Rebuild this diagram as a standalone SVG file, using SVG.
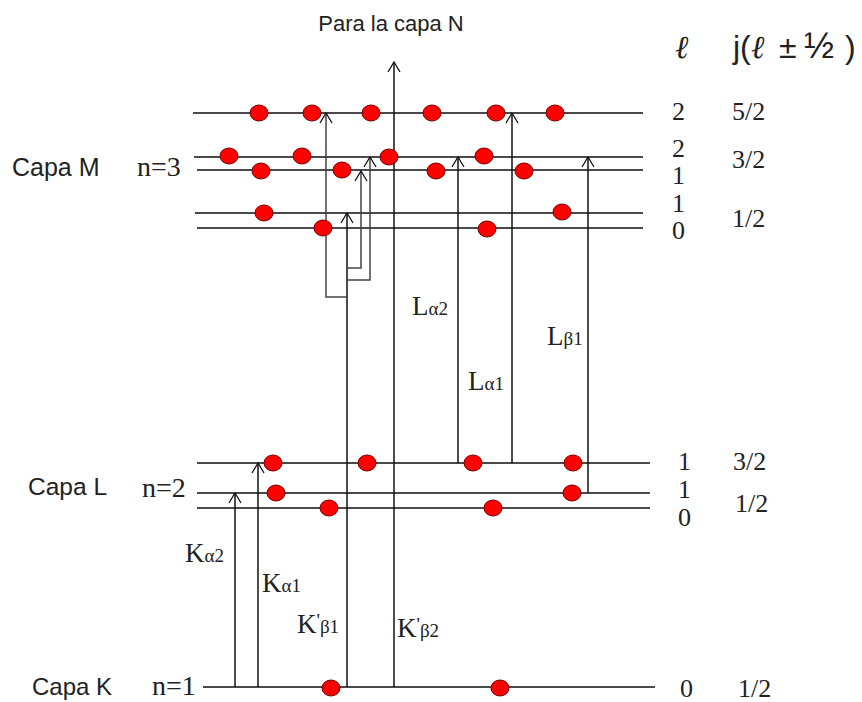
<svg xmlns="http://www.w3.org/2000/svg" width="862" height="702" viewBox="0 0 862 702">
<style>
.lvl{stroke:#4a4a4a;stroke-width:2;fill:none}
.e{fill:#ff0000;stroke:#7a0000;stroke-width:1}
.arr{stroke:#111;stroke-width:1.5;fill:none;marker-end:url(#ah)}
.br{stroke:#444;stroke-width:1.5;fill:none;marker-end:url(#ah)}
.sans{font-family:"Liberation Sans",Arial,sans-serif;fill:#222}
.ser{font-family:"Liberation Serif","Times New Roman",serif;fill:#222}
.num{font-family:"Liberation Serif","Times New Roman",serif;font-size:26px;fill:#222}
</style>
<defs>
<marker id="ah" viewBox="-12 -8 14 16" refX="0" refY="0" markerWidth="14" markerHeight="16" markerUnits="userSpaceOnUse" orient="auto" overflow="visible">
<path d="M-10,-6 L0,0 L-10,6" fill="none" stroke="#111" stroke-width="1.3"/>
</marker>
</defs>
<rect width="862" height="702" fill="#fff"/>

<g id="shell-M">
<line class="lvl" x1="193" y1="113" x2="643" y2="113"/>
<line class="lvl" x1="194" y1="157" x2="643" y2="157"/>
<line class="lvl" x1="197" y1="170" x2="643" y2="170"/>
<line class="lvl" x1="195" y1="213" x2="643" y2="213"/>
<line class="lvl" x1="197" y1="228" x2="643" y2="228"/>
<text class="sans" x="12" y="176" font-size="25">Capa M</text>
<text class="ser" x="137" y="176" font-size="28">n=3</text>
</g>

<g id="shell-L">
<line class="lvl" x1="197" y1="463" x2="650" y2="463"/>
<line class="lvl" x1="197" y1="493" x2="650" y2="493"/>
<line class="lvl" x1="197" y1="508" x2="650" y2="508"/>
<text class="sans" x="28" y="495" font-size="24.5">Capa L</text>
<text class="ser" x="142" y="497" font-size="28">n=2</text>
</g>

<g id="shell-K">
<line class="lvl" x1="203" y1="687" x2="655" y2="687"/>
<text class="sans" x="32" y="695" font-size="24">Capa K</text>
<text class="ser" x="152" y="695" font-size="28">n=1</text>
</g>

<g id="connectors">
<path class="arr" d="M235,687 V493"/>
<path class="arr" d="M258,687 V463"/>
<path class="arr" d="M347,687 V213"/>
<path class="br" d="M347,268 H361 V171"/>
<path class="br" d="M347,280 H370 V157"/>
<path class="br" d="M347,297 H326 V113"/>
<path class="arr" d="M394,687 V62" stroke-width="2.2"/>
<path class="arr" d="M458,463 V157"/>
<path class="arr" d="M512,463 V113"/>
<path class="arr" d="M588,493 V157"/>
</g>

<g id="electrons">
<ellipse class="e" cx="259" cy="113" rx="9" ry="8"/>
<ellipse class="e" cx="312" cy="113" rx="9" ry="8"/>
<ellipse class="e" cx="371" cy="113" rx="9" ry="8"/>
<ellipse class="e" cx="432" cy="113" rx="9" ry="8"/>
<ellipse class="e" cx="496" cy="113" rx="9" ry="8"/>
<ellipse class="e" cx="555" cy="113" rx="9" ry="8"/>
<ellipse class="e" cx="229" cy="156" rx="9" ry="8"/>
<ellipse class="e" cx="302" cy="156" rx="9" ry="8"/>
<ellipse class="e" cx="389" cy="157" rx="9" ry="8"/>
<ellipse class="e" cx="484" cy="156" rx="9" ry="8"/>
<ellipse class="e" cx="261" cy="171" rx="9" ry="8"/>
<ellipse class="e" cx="342" cy="170" rx="9" ry="8"/>
<ellipse class="e" cx="436" cy="171" rx="9" ry="8"/>
<ellipse class="e" cx="524" cy="171" rx="9" ry="8"/>
<ellipse class="e" cx="264" cy="213" rx="9" ry="8"/>
<ellipse class="e" cx="562" cy="212" rx="9" ry="8"/>
<ellipse class="e" cx="323" cy="228" rx="9" ry="8"/>
<ellipse class="e" cx="487" cy="229" rx="9" ry="8"/>
<ellipse class="e" cx="273" cy="463" rx="9" ry="8"/>
<ellipse class="e" cx="367" cy="463" rx="9" ry="8"/>
<ellipse class="e" cx="473" cy="463" rx="9" ry="8"/>
<ellipse class="e" cx="573" cy="463" rx="9" ry="8"/>
<ellipse class="e" cx="276" cy="493" rx="9" ry="8"/>
<ellipse class="e" cx="572" cy="493" rx="9" ry="8"/>
<ellipse class="e" cx="329" cy="508" rx="9" ry="8"/>
<ellipse class="e" cx="493" cy="508" rx="9" ry="8"/>
<ellipse class="e" cx="331" cy="688" rx="9" ry="8"/>
<ellipse class="e" cx="500" cy="688" rx="9" ry="8"/>
</g>

<g id="transition-labels">
<text class="ser" x="185" y="562" font-size="27">K<tspan font-size="19">α2</tspan></text>
<text class="ser" x="262" y="592" font-size="27">K<tspan font-size="19">α1</tspan></text>
<text class="ser" x="297" y="633" font-size="27">K<tspan font-size="19" dy="-6">'</tspan><tspan font-size="19" dy="6">β1</tspan></text>
<text class="ser" x="397" y="637" font-size="27">K<tspan font-size="19" dy="-6">'</tspan><tspan font-size="19" dy="6">β2</tspan></text>
<text class="ser" x="412" y="315" font-size="27">L<tspan font-size="19">α2</tspan></text>
<text class="ser" x="468" y="390" font-size="27">L<tspan font-size="19">α1</tspan></text>
<text class="ser" x="547" y="345" font-size="27">L<tspan font-size="19">β1</tspan></text>
<text class="sans" x="391" y="31" font-size="22" text-anchor="middle">Para la capa N</text>
</g>

<g id="quantum-numbers">
<text class="ser" x="675" y="58" font-size="32" font-style="italic">ℓ</text>
<text class="sans" x="733" y="58" font-size="32">j(<tspan class="ser" font-style="italic" font-size="32" x="751">ℓ</tspan><tspan x="779">±</tspan><tspan x="804" font-size="36">½</tspan><tspan x="845">)</tspan></text>
<text class="num" x="672" y="120">2</text>
<text class="num" x="732" y="120">5/2</text>
<text class="num" x="672" y="157">2</text>
<text class="num" x="672" y="184">1</text>
<text class="num" x="732" y="168">3/2</text>
<text class="num" x="672" y="212">1</text>
<text class="num" x="672" y="239">0</text>
<text class="num" x="732" y="227">1/2</text>
<text class="num" x="678" y="470">1</text>
<text class="num" x="733" y="470">3/2</text>
<text class="num" x="678" y="498">1</text>
<text class="num" x="678" y="526">0</text>
<text class="num" x="735" y="512">1/2</text>
<text class="num" x="680" y="697" font-size="25">0</text>
<text class="num" x="738" y="697" font-size="25">1/2</text>
</g>
</svg>
